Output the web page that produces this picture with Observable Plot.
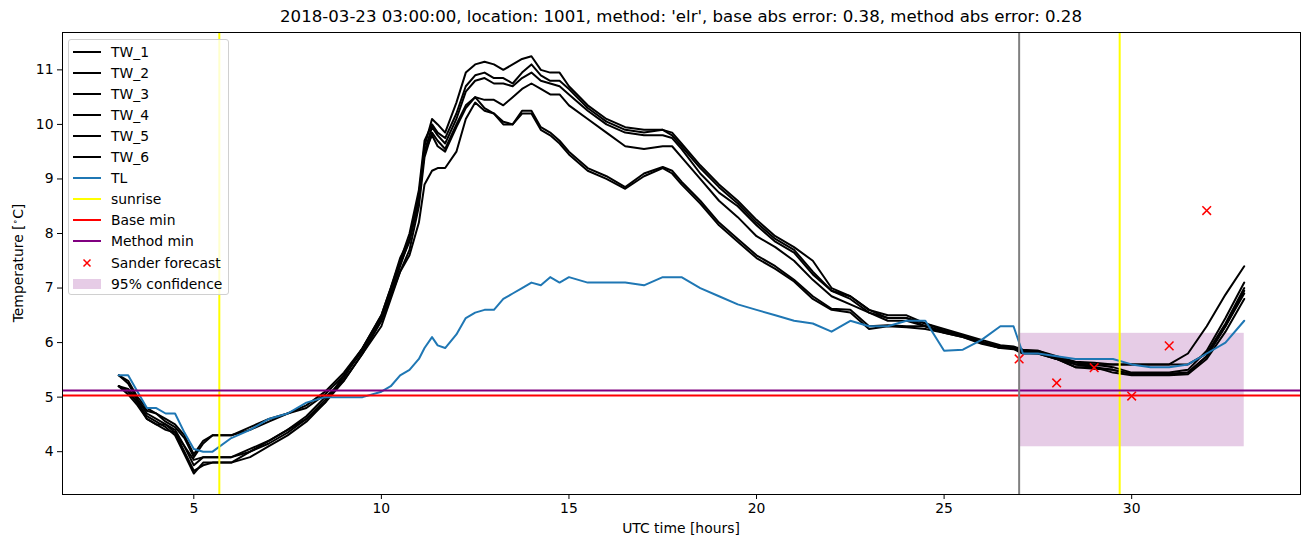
<!DOCTYPE html>
<html><head><meta charset="utf-8">
<script src="https://cdn.jsdelivr.net/npm/d3@7"></script>
<script src="https://cdn.jsdelivr.net/npm/@observablehq/plot@0.6"></script>
<style>
body{margin:0;background:#fff;font-family:"DejaVu Sans",sans-serif;}
#wrap{position:relative;width:1311px;height:547px;overflow:hidden;}
#title{position:absolute;left:62px;width:1238px;top:7px;text-align:center;font-size:16.6px;color:#000;white-space:nowrap;}
#xlabel{position:absolute;left:62px;width:1238px;top:520px;text-align:center;font-size:13.9px;}
#ylabel{position:absolute;left:18px;top:263px;transform:translate(-50%,-50%) rotate(-90deg);font-size:13.9px;white-space:nowrap;}
#legend{position:absolute;left:68px;top:39px;width:159px;height:254px;border:1px solid #d0d0d0;border-radius:3px;background:rgba(255,255,255,0.8);font-size:13.9px;}
.row{position:absolute;left:0;height:21px;display:flex;align-items:center;}
.row svg{margin-left:4px;margin-right:10px;}
</style></head><body>
<div id="wrap"><div id="chart"></div>
<div id="title">2018-03-23 03:00:00, location: 1001, method: 'elr', base abs error: 0.38, method abs error: 0.28</div>
<div id="xlabel">UTC time [hours]</div>
<div id="ylabel">Temperature [<sup style="font-size:9px">∘</sup>C]</div>
<div id="legend"></div>
</div>
<script>
const hours = [3.0,3.25,3.5,3.75,4.0,4.25,4.5,4.75,5.0,5.25,5.5,6.0,6.5,7.0,7.5,8.0,8.5,9.0,9.5,10.0,10.25,10.5,10.75,11.0,11.15,11.35,11.5,11.7,12.0,12.25,12.5,12.75,13.0,13.25,13.5,13.75,14.0,14.25,14.5,14.75,15.0,15.5,16.0,16.5,17.0,17.5,17.75,18.0,18.5,19.0,19.5,20.0,20.5,21.0,21.5,22.0,22.5,23.0,23.5,24.0,24.5,25.0,25.5,26.0,26.5,26.85,27.1,27.5,28.0,28.5,29.0,29.5,30.0,30.5,31.0,31.5,32.0,32.5,33.0];

const TW_1 = [5.2,5.15,4.95,4.7,4.6,4.5,4.35,4.0,3.65,3.75,3.8,3.8,3.9,4.1,4.3,4.55,4.9,5.3,5.8,6.4,6.9,7.4,7.9,8.7,9.6,10.1,10.0,9.85,10.4,10.95,11.1,11.15,11.1,11.0,11.1,11.2,11.25,11.0,10.95,10.95,10.7,10.35,10.1,9.95,9.9,9.9,9.85,9.65,9.25,8.9,8.6,8.25,7.95,7.75,7.5,7.0,6.85,6.6,6.5,6.5,6.35,6.25,6.15,6.05,5.95,5.93,5.87,5.85,5.75,5.65,5.63,5.6,5.6,5.6,5.6,5.8,6.3,6.88,7.4];
const TW_2 = [5.2,5.1,4.9,4.65,4.55,4.45,4.3,3.95,3.6,3.8,3.8,3.8,4.0,4.15,4.35,4.6,4.9,5.4,5.9,6.5,7.0,7.5,8.0,8.8,9.7,10.0,9.85,9.75,10.2,10.7,10.9,10.95,10.85,10.85,10.75,10.95,11.1,10.9,10.8,10.8,10.65,10.3,10.05,9.9,9.85,9.9,9.8,9.6,9.2,8.85,8.55,8.2,7.9,7.7,7.3,6.95,6.85,6.6,6.45,6.45,6.35,6.22,6.13,6.02,5.93,5.92,5.85,5.85,5.72,5.63,5.6,5.55,5.45,5.45,5.45,5.5,5.85,6.45,7.1];
const TW_3 = [5.2,5.1,4.9,4.6,4.5,4.5,4.4,4.1,3.75,3.9,3.9,3.9,4.0,4.2,4.4,4.6,4.95,5.35,5.9,6.45,6.95,7.45,7.85,8.6,9.5,9.95,9.8,9.65,10.1,10.6,10.8,10.85,10.75,10.75,10.7,10.85,10.95,10.8,10.75,10.7,10.55,10.25,10.0,9.85,9.8,9.8,9.75,9.55,9.1,8.75,8.5,8.15,7.85,7.65,7.25,6.95,6.8,6.55,6.45,6.45,6.3,6.2,6.13,6.0,5.92,5.9,5.85,5.83,5.72,5.6,5.58,5.6,5.6,5.6,5.6,5.6,5.8,6.35,7.0];
const TW_4 = [5.2,5.05,4.85,4.6,4.5,4.4,4.35,4.1,3.85,3.9,3.9,3.9,4.05,4.2,4.4,4.65,5.0,5.3,5.8,6.3,6.8,7.3,7.7,8.5,9.4,9.85,9.7,9.55,10.0,10.35,10.5,10.45,10.45,10.35,10.5,10.65,10.75,10.65,10.55,10.55,10.35,10.1,9.85,9.6,9.55,9.6,9.6,9.4,9.0,8.6,8.3,7.95,7.75,7.5,7.15,6.85,6.7,6.55,6.4,6.4,6.3,6.18,6.1,6.0,5.9,5.9,5.83,5.82,5.7,5.6,5.55,5.5,5.42,5.42,5.42,5.45,5.75,6.3,6.9];
const TW_5 = [5.4,5.3,5.0,4.8,4.7,4.6,4.5,4.3,3.95,4.2,4.3,4.3,4.45,4.6,4.7,4.85,5.1,5.45,5.9,6.5,7.0,7.55,7.9,8.7,9.5,9.8,9.6,9.5,9.95,10.3,10.5,10.3,10.2,10.0,10.0,10.25,10.25,9.95,9.85,9.7,9.5,9.2,9.05,8.85,9.1,9.22,9.15,8.95,8.6,8.2,7.9,7.6,7.4,7.15,6.85,6.62,6.6,6.3,6.32,6.3,6.3,6.2,6.12,6.0,5.9,5.9,5.82,5.8,5.7,5.55,5.55,5.45,5.4,5.4,5.4,5.42,5.7,6.2,6.8];
const TW_6 = [5.4,5.25,4.95,4.75,4.7,4.55,4.45,4.25,3.9,4.15,4.3,4.3,4.4,4.55,4.7,4.8,5.05,5.4,5.85,6.4,6.85,7.3,7.6,8.2,8.9,9.15,9.2,9.2,9.5,10.1,10.4,10.25,10.2,10.05,10.0,10.2,10.2,9.9,9.8,9.65,9.45,9.15,9.0,8.82,9.05,9.2,9.1,8.9,8.55,8.15,7.85,7.55,7.35,7.12,6.8,6.6,6.55,6.25,6.3,6.28,6.25,6.18,6.1,5.98,5.9,5.88,5.8,5.8,5.7,5.55,5.52,5.5,5.43,5.43,5.43,5.45,5.75,6.3,6.95];
const TL = [5.4,5.4,5.1,4.8,4.8,4.7,4.7,4.35,4.05,4.0,4.0,4.25,4.4,4.6,4.7,4.9,5.0,5.0,5.0,5.1,5.2,5.4,5.5,5.7,5.9,6.1,5.95,5.9,6.15,6.45,6.55,6.6,6.6,6.8,6.9,7.0,7.1,7.05,7.2,7.1,7.2,7.1,7.1,7.1,7.05,7.2,7.2,7.2,7.0,6.85,6.7,6.6,6.5,6.4,6.35,6.2,6.4,6.3,6.3,6.4,6.4,5.85,5.87,6.05,6.3,6.3,5.8,5.8,5.75,5.7,5.7,5.7,5.6,5.55,5.55,5.6,5.8,6.0,6.4];

const sunriseHours = [5.68, 29.68];
const analysisHour = [27.0];
const baseMin = [5.03];
const methodMin = [5.12];
const forecastHours = [27, 28, 29, 30, 31, 32];
const forecastTemps = [5.70, 5.26, 5.54, 5.02, 5.94, 8.42];
const confidenceHours = [27, 33];
const confidenceTemps = [4.09, 6.17];
const xTicks = [5, 10, 15, 20, 25, 30];
const yTicks = [4, 5, 6, 7, 8, 9, 10, 11];

const twSeries = [["TW_1", TW_1], ["TW_2", TW_2], ["TW_3", TW_3], ["TW_4", TW_4], ["TW_5", TW_5], ["TW_6", TW_6]];
const toRows = (arr) => hours.map((h, i) => ({h, t: arr[i]}));
const forecast = forecastHours.map((h, i) => ({h, t: forecastTemps[i]}));
const conf = [{x1: confidenceHours[0], x2: confidenceHours[1], y1: confidenceTemps[0], y2: confidenceTemps[1]}];

const marks = [
  Plot.rect(conf, {x1: "x1", x2: "x2", y1: "y1", y2: "y2", fill: "purple", fillOpacity: 0.2}),
  ...twSeries.map(([name, arr]) => Plot.line(toRows(arr), {x: "h", y: "t", stroke: "black", strokeWidth: 2})),
  Plot.line(toRows(TL), {x: "h", y: "t", stroke: "#1f77b4", strokeWidth: 2}),
  Plot.ruleX(sunriseHours, {stroke: "yellow", strokeWidth: 2}),
  Plot.ruleY(baseMin, {stroke: "red", strokeWidth: 2}),
  Plot.ruleY(methodMin, {stroke: "purple", strokeWidth: 2}),
  Plot.dot(forecast, {x: "h", y: "t", symbol: "times", stroke: "red", strokeWidth: 1.5, r: 4}),
  Plot.ruleX(analysisHour, {stroke: "gray", strokeWidth: 2}),
  Plot.axisX({ticks: xTicks, tickSize: 5, tickPadding: 4, label: null, fontSize: 13.9}),
  Plot.axisY({ticks: yTicks, tickSize: 5, tickPadding: 4, label: null, fontSize: 13.9}),
  Plot.frame({stroke: "black", strokeWidth: 1})
];

const chart = Plot.plot({
  width: 1311, height: 547,
  marginLeft: 62, marginRight: 11, marginTop: 32, marginBottom: 53,
  x: {domain: [1.5, 34.5]},
  y: {domain: [3.215, 11.685]},
  style: {fontFamily: "DejaVu Sans", fontSize: "13.9px", background: "white", color: "black"},
  marks
});
document.getElementById("chart").appendChild(chart);

// legend
const legendItems = [
  ...twSeries.map(([name]) => ({label: name, kind: "line", color: "black"})),
  {label: "TL", kind: "line", color: "#1f77b4"},
  {label: "sunrise", kind: "line", color: "yellow"},
  {label: "Base min", kind: "line", color: "red"},
  {label: "Method min", kind: "line", color: "purple"},
  {label: "Sander forecast", kind: "x", color: "red"},
  {label: "95% confidence", kind: "rect", color: "purple"}
];
const leg = document.getElementById("legend");
legendItems.forEach((it, i) => {
  const row = document.createElement("div");
  row.className = "row";
  row.style.top = (1 + i * 21.1) + "px";
  let sym;
  if (it.kind === "line") sym = `<line x1="0" x2="28" y1="6" y2="6" stroke="${it.color}" stroke-width="2"/>`;
  else if (it.kind === "x") sym = `<path d="M10.5 2.5 L17.5 9.5 M17.5 2.5 L10.5 9.5" stroke="${it.color}" stroke-width="1.5"/>`;
  else sym = `<rect x="0" y="1" width="28" height="10" fill="${it.color}" fill-opacity="0.2"/>`;
  row.innerHTML = `<svg width="28" height="12">${sym}</svg><span>${it.label}</span>`;
  leg.appendChild(row);
});
</script>
</body></html>
